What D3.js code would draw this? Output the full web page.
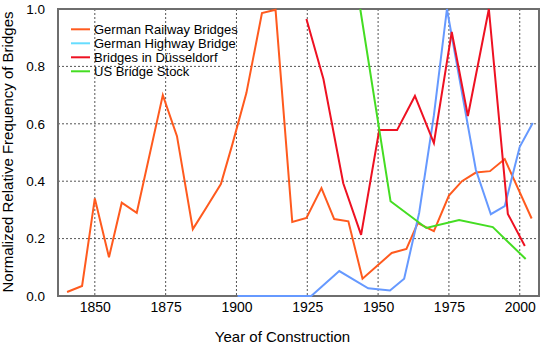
<!DOCTYPE html>
<html>
<head>
<meta charset="utf-8">
<script src="https://cdn.jsdelivr.net/npm/d3@7"></script>
<style>
  body { margin: 0; background: #fff; }
  svg { display: block; font-family: "Liberation Sans", Arial, sans-serif; }
</style>
</head>
<body>
<div id="chart"></div>
<script>
// data
const railYears = [1840.2, 1845.5, 1850, 1855, 1859.5, 1864.8, 1874, 1879, 1884.6, 1889.5, 1894.5, 1898.6, 1903.5, 1909, 1913.8, 1919.7, 1924.7, 1930, 1934.5, 1939.5, 1944.5, 1954.8, 1960, 1964, 1969.7, 1975, 1979.6, 1984.5, 1989.5, 1994.7, 2004.2];
const railValues = [0.014, 0.035, 0.34, 0.135, 0.325, 0.29, 0.70, 0.557, 0.233, 0.31, 0.39, 0.53, 0.707, 0.986, 0.997, 0.258, 0.272, 0.376, 0.268, 0.26, 0.06, 0.15, 0.164, 0.254, 0.226, 0.35, 0.40, 0.43, 0.435, 0.477, 0.27];

const highwayYears = [1900.4, 1926.4, 1936.3, 1946.5, 1954.2, 1959.2, 1964.5, 1969.7, 1974.3, 1984.5, 1989.8, 1994.7, 2000, 2004.6];
const highwayValues = [0, 0, 0.087, 0.027, 0.019, 0.06, 0.29, 0.63, 1.0, 0.44, 0.285, 0.313, 0.52, 0.603];

const dusseldorfYears = [1924.7, 1930.7, 1937.7, 1944, 1950.4, 1956.7, 1963, 1969.7, 1976, 1981.7, 1989.1, 1995.8, 2001.8];
const dusseldorfValues = [0.965, 0.756, 0.393, 0.213, 0.578, 0.578, 0.697, 0.533, 0.92, 0.627, 1.0, 0.286, 0.174];

const usYears = [1943.7, 1954.4, 1967, 1978.6, 1990.5, 2002.1];
const usValues = [1.0, 0.33, 0.237, 0.265, 0.24, 0.129];

const seriesNames = ["German Railway Bridges", "German Highway Bridge", "Bridges in Düsseldorf", "US Bridge Stock"];
const xTicks = [1850, 1875, 1900, 1925, 1950, 1975, 2000];
const yTicks = [0, 0.2, 0.4, 0.6, 0.8, 1.0];

const series = [
    {name: seriesNames[0], years: railYears, values: railValues, color: "#ff5a1e", legend: "#ff5a1e"},
    {name: seriesNames[1], years: highwayYears, values: highwayValues, color: "#6699ff", legend: "#66ddff"},
    {name: seriesNames[2], years: dusseldorfYears, values: dusseldorfValues, color: "#ee1122", legend: "#ee1122"},
    {name: seriesNames[3], years: usYears, values: usValues, color: "#44dd22", legend: "#44dd22"}
];

const W = 544, H = 345;
const margin = {top: 9, right: 5, bottom: 49, left: 58},
    width = W - margin.left - margin.right,
    height = H - margin.top - margin.bottom;

const svg = d3.select("#chart")
    .append("svg")
    .attr("width", W)
    .attr("height", H)
    .append("g")
    .attr("transform", `translate(${margin.left},${margin.top})`);

const x = d3.scaleLinear().domain([1837, 2006.8]).range([0, width]);
const y = d3.scaleLinear().domain([0, 1]).range([height, 0]);

// grid
svg.append("g")
    .selectAll("line")
    .data(xTicks)
    .join("line")
    .attr("x1", d => x(d)).attr("x2", d => x(d))
    .attr("y1", 0).attr("y2", height)
    .attr("stroke", "#555")
    .attr("stroke-width", 1)
    .attr("stroke-dasharray", "2,2");

svg.append("g")
    .selectAll("line")
    .data(yTicks.slice(1, -1))
    .join("line")
    .attr("x1", 0).attr("x2", width)
    .attr("y1", d => y(d)).attr("y2", d => y(d))
    .attr("stroke", "#555")
    .attr("stroke-width", 1)
    .attr("stroke-dasharray", "2,2");

// frame
svg.append("rect")
    .attr("width", width)
    .attr("height", height)
    .attr("fill", "none")
    .attr("stroke", "#6e6e6e")
    .attr("stroke-width", 2);

// axes (labels only)
const xAxis = svg.append("g")
    .attr("transform", `translate(0,${height})`)
    .call(d3.axisBottom(x).tickValues(xTicks).tickFormat(d3.format("d")).tickSize(0).tickPadding(6));
xAxis.select(".domain").remove();
xAxis.selectAll("text").style("font-size", "14px").style("font-family", "Liberation Sans, Arial, sans-serif").attr("fill", "#000");

const yAxis = svg.append("g")
    .call(d3.axisLeft(y).tickValues(yTicks).tickFormat(d3.format(".1f")).tickSize(0).tickPadding(13));
yAxis.select(".domain").remove();
yAxis.selectAll("text").style("font-size", "13.5px").style("font-family", "Liberation Sans, Arial, sans-serif").attr("fill", "#000");

// lines
const line = d3.line()
    .x(d => x(d[0]))
    .y(d => y(d[1]));

svg.append("g")
    .selectAll("path")
    .data(series)
    .join("path")
    .attr("d", s => line(s.years.map((yr, i) => [yr, s.values[i]])))
    .attr("fill", "none")
    .attr("stroke", s => s.color)
    .attr("stroke-width", 2)
    .attr("stroke-linejoin", "miter");

// legend
const legend = svg.selectAll(".legend")
    .data(series)
    .join("g")
    .attr("class", "legend")
    .attr("transform", (d, i) => `translate(13,${20.3 + i * 14})`);

legend.append("line")
    .attr("x1", 0).attr("x2", 19)
    .attr("stroke", d => d.legend)
    .attr("stroke-width", 2);

legend.append("text")
    .attr("x", 23)
    .attr("y", 4.7)
    .style("font-size", "13px")
    .text(d => d.name);

// axis titles
svg.append("text")
    .attr("text-anchor", "middle")
    .attr("x", width / 2 - 16)
    .attr("y", height + 46)
    .style("font-size", "15px")
    .text("Year of Construction");

svg.append("text")
    .attr("text-anchor", "middle")
    .attr("transform", "rotate(-90)")
    .attr("x", -143)
    .attr("y", -45)
    .style("font-size", "15px")
    .text("Normalized Relative Frequency of Bridges");
</script>
</body>
</html>
